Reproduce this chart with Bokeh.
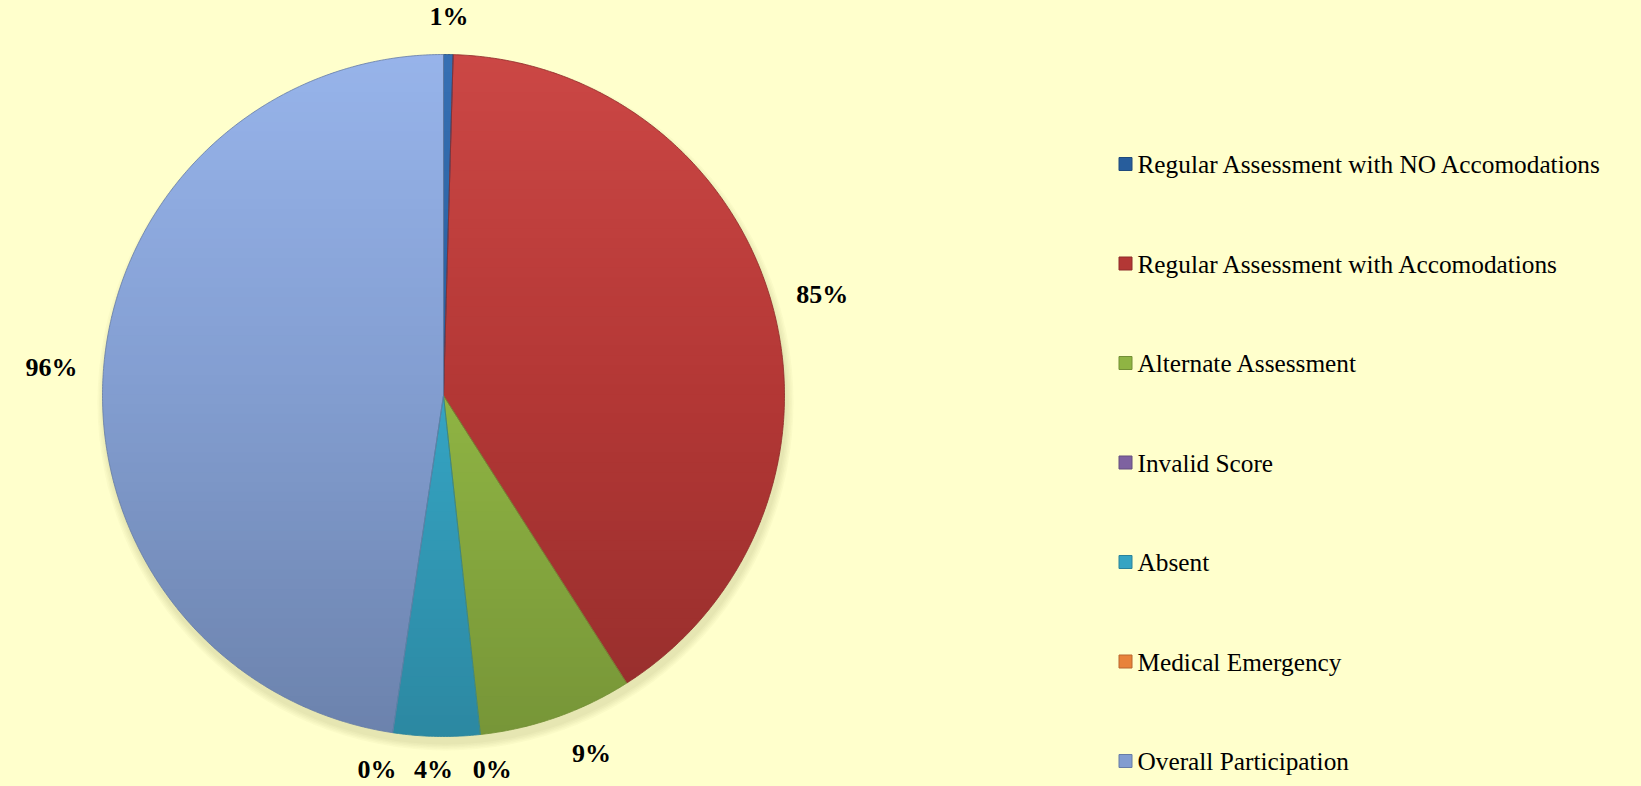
import math
import numpy as np
from bokeh.plotting import figure
from bokeh.models import ColumnDataSource, Range1d
from bokeh.core.properties import value
from bokeh.embed import file_html
from bokeh.resources import INLINE

# ---------------- data ----------------
categories = [
    "Regular Assessment with NO Accomodations",
    "Regular Assessment with Accomodations",
    "Alternate Assessment",
    "Invalid Score",
    "Absent",
    "Medical Emergency",
    "Overall Participation",
]
# slice shares as drawn
shares = [0.45, 40.5, 7.3, 0.0, 4.1, 0.0, 47.6]
# data labels as printed on the chart
pct_labels = ["1%", "85%", "9%", "0%", "4%", "0%", "96%"]
colors = ["#275D9C", "#B33735", "#8FB443", "#7E62A0", "#35A4C3", "#E8823A", "#829DD0"]

# ---------------- layout ----------------
W, H = 1641, 786
BG = "#FFFFCC"
cx, cy, R = 443.0, 391.0, 341.0
label_nudge_x = [0, 0, 20, 7, -2, -9, 0]   # Excel-like overlap avoidance

p = figure(width=W, height=H, output_backend="svg", toolbar_location=None,
           x_range=Range1d(0, W), y_range=Range1d(0, H), min_border=0)
p.axis.visible = False
p.grid.visible = False
p.outline_line_color = None
p.background_fill_color = BG
p.border_fill_color = BG

try:
    from bokeh.models import GlobalInlineStyleSheet
    p.stylesheets = [GlobalInlineStyleSheet(css="body{background:%s;}" % BG)]
except Exception:
    pass


def hex2rgb(h):
    h = h.lstrip("#")
    return tuple(int(h[i:i + 2], 16) for i in (0, 2, 4))


def shade(h, t):
    r, g, b = hex2rgb(h)
    f = 1 + (0.12 if t > 0 else 0.17) * t
    r, g, b = [c * f for c in (r, g, b)]
    if t > 0:
        a = 0.05 * t
        r, g, b = [c + a * (255 - c) for c in (r, g, b)]
    return "#%02x%02x%02x" % tuple(int(round(max(0, min(255, c)))) for c in (r, g, b))


def clip_strip(poly, yb, yt):
    def clip_half(pts, keep, y0):
        out = []
        n = len(pts)
        for i in range(n):
            cur, prev = pts[i], pts[i - 1]
            cin, pin = keep(cur), keep(prev)
            if cin != pin:
                tt = (y0 - prev[1]) / (cur[1] - prev[1])
                out.append((prev[0] + tt * (cur[0] - prev[0]), y0))
            if cin:
                out.append(cur)
        return out
    pts = clip_half(poly, lambda q: q[1] >= yb, yb)
    if len(pts) >= 3:
        pts = clip_half(pts, lambda q: q[1] <= yt, yt)
    return pts


# shadow under the pie
for i in range(5):
    p.circle(x=[cx + 2], y=[cy - 7], radius=R + 1 + 1.5 * i,
             fill_color="#70703a", fill_alpha=0.035, line_alpha=0)

total = sum(shares)
angles = []
acc = 0.0
for s in shares:
    a0 = acc
    acc += s / total * 360.0
    angles.append((a0, acc))

# sector polygons
sectors = []
for i, (a0, a1) in enumerate(angles):
    if shares[i] <= 0:
        continue
    n = max(8, int((a1 - a0) / 0.5) + 2)
    th = np.radians(np.linspace(a0, a1, n))
    pts = [(cx, cy)] + [(cx + R * math.sin(t), cy + R * math.cos(t)) for t in th]
    sectors.append((i, pts))

# gradient bands
nb = 70
bh = 2 * R / nb
bxs, bys, bcs = [], [], []
for k in range(nb):
    yt = cy + R - k * bh
    yb = yt - bh
    tmid = ((yt + yb) / 2 - cy) / R
    for i, pts in sectors:
        poly = clip_strip(pts, yb, yt + (1.2 if k > 0 else 0))
        if len(poly) >= 3:
            bxs.append([q[0] for q in poly])
            bys.append([q[1] for q in poly])
            bcs.append(shade(colors[i], tmid))
p.patches(xs="xs", ys="ys", fill_color="c", line_alpha=0,
          source=ColumnDataSource(dict(xs=bxs, ys=bys, c=bcs)))

# slice outlines
oxs = [[q[0] for q in pts] for i, pts in sectors]
oys = [[q[1] for q in pts] for i, pts in sectors]
ocs = [shade(colors[i], -1.2) for i, pts in sectors]
p.patches(xs="xs", ys="ys", fill_alpha=0, line_color="c", line_width=1.0, line_alpha=0.8,
          source=ColumnDataSource(dict(xs=oxs, ys=oys, c=ocs)))

# data labels
lx, ly = [], []
fs = 26.0
for i, (a0, a1) in enumerate(angles):
    am = math.radians((a0 + a1) / 2)
    ux, uy = math.sin(am), math.cos(am)
    w = sum(0.5 * fs if ch.isdigit() else fs for ch in pct_labels[i])
    hw, hh = w / 2, 12.0
    lx.append(cx + (R + 26) * ux + hw * ux + label_nudge_x[i])
    ly.append(max(17.0, cy + (R + 26) * uy + hh * uy))
p.text(x=lx, y=ly, text=pct_labels, text_font=value("Liberation Serif"),
       text_font_size="26px", text_font_style="bold", text_color="#000000",
       text_align="center", text_baseline="middle")

# legend
row0, step = H - 163.5, 99.5
leg_y = [row0 - step * i for i in range(len(categories))]
p.scatter(x=[1125] * len(categories), y=leg_y, marker="square", size=13,
          fill_color=colors, line_color=[shade(c, -1.2) for c in colors], line_width=1)
p.text(x=[1137] * len(categories), y=leg_y, text=categories,
       text_font=value("Liberation Serif"), text_font_size="25.3px",
       text_color="#000000", text_align="left", text_baseline="middle")

open("out.html", "w").write(file_html(p, INLINE))
